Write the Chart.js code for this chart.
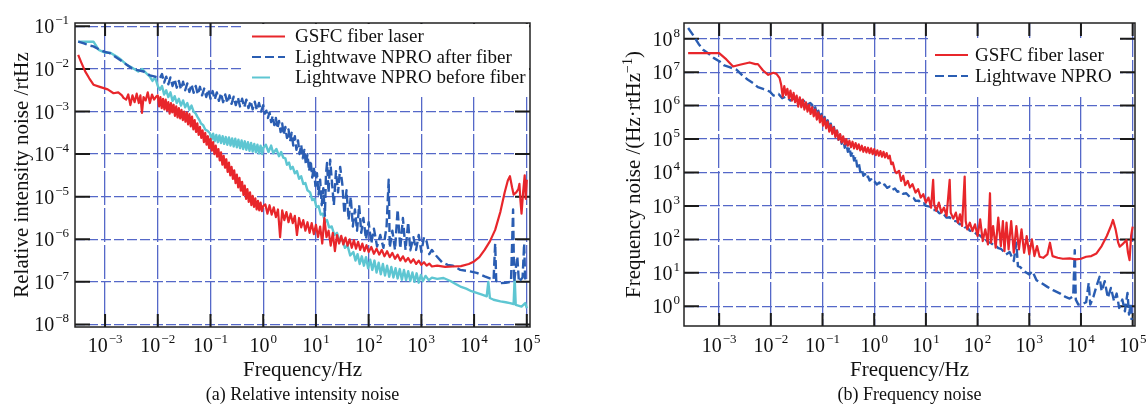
<!DOCTYPE html>
<html><head><meta charset="utf-8">
<script src="https://cdn.jsdelivr.net/npm/chart.js@4"></script>
<style>
html,body{margin:0;padding:0;background:#fff;width:1147px;height:406px;overflow:hidden}
#wrap{position:relative;width:1147px;height:406px;background:#fff}
canvas{position:absolute;top:0}
#cA{left:0;width:570px;height:406px}
#cB{left:570px;width:577px;height:406px}
</style></head><body>
<div id="wrap"><canvas id="cA" width="570" height="406"></canvas><canvas id="cB" width="577" height="406"></canvas></div>
<script>
// ---- data: pairs [log10(frequency / Hz), log10(noise)] ----
const rinNames = ['GSFC fiber laser', 'Lightwave NPRO after fiber', 'Lightwave NPRO before fiber'];
const fnNames = ['GSFC fiber laser', 'Lightwave NPRO'];
const xDecades = [-3, -2, -1, 0, 1, 2, 3, 4, 5];
const rinYDecades = [-8, -7, -6, -5, -4, -3, -2, -1];
const fnYDecades = [0, 1, 2, 3, 4, 5, 6, 7, 8];

const rinGsfc = [[-3.51,-1.67],[-3.45,-1.85],[-3.38,-2.05],[-3.30,-2.22],[-3.22,-2.37],[-3.10,-2.42],[-2.95,-2.48],[-2.84,-2.57],[-2.75,-2.55],[-2.68,-2.62],[-2.65,-2.68],
[-2.60,-2.72],[-2.56,-2.60],[-2.52,-2.85],[-2.48,-2.62],[-2.44,-2.78],[-2.40,-2.58],[-2.36,-2.80],[-2.33,-2.62],[-2.30,-3.03],[-2.27,-2.66],[-2.23,-2.74],[-2.19,-2.55],[-2.15,-2.80],[-2.11,-2.60],[-2.07,-2.72],[-2.03,-2.65],
[-2.000,-2.62],[-1.975,-2.88],[-1.950,-2.66],[-1.925,-2.92],[-1.900,-2.70],[-1.875,-2.95],[-1.850,-2.72],[-1.825,-2.98],[-1.800,-2.78],[-1.775,-3.05],[-1.750,-2.80],[-1.725,-3.02],[-1.700,-2.84],[-1.675,-3.10],[-1.650,-2.88],[-1.625,-3.14],[-1.600,-2.92],[-1.575,-3.16],[-1.550,-2.96],[-1.525,-3.20],[-1.500,-3.00],[-1.475,-3.24],[-1.450,-3.02],[-1.425,-3.30],[-1.400,-3.06],[-1.375,-3.35],[-1.350,-3.12],[-1.325,-3.42],[-1.300,-3.20],[-1.275,-3.48],[-1.250,-3.28],[-1.225,-3.55],[-1.200,-3.36],[-1.175,-3.62],[-1.150,-3.44],[-1.125,-3.72],[-1.100,-3.50],[-1.075,-3.78],[-1.050,-3.58],[-1.025,-3.86],[-1.000,-3.64],[-0.975,-3.92],[-0.950,-3.72],[-0.925,-4.00],[-0.900,-3.80],[-0.875,-4.06],[-0.850,-3.88],[-0.825,-4.15],[-0.800,-3.96],[-0.775,-4.25],[-0.750,-4.04],[-0.725,-4.32],[-0.700,-4.12],[-0.675,-4.42],[-0.650,-4.20],[-0.625,-4.50],[-0.600,-4.30],[-0.575,-4.58],[-0.550,-4.38],[-0.525,-4.68],[-0.500,-4.48],[-0.475,-4.78],[-0.450,-4.56],[-0.425,-4.86],[-0.400,-4.65],[-0.375,-4.96],[-0.350,-4.74],[-0.325,-5.05],[-0.300,-4.82],[-0.275,-5.12],[-0.250,-4.90],[-0.225,-5.20],[-0.200,-4.98],[-0.175,-5.24],[-0.150,-5.04],[-0.125,-5.30],[-0.100,-5.10],[-0.075,-5.32],[-0.050,-5.14],[-0.025,-5.34],[0.000,-5.22],
[0.04,-5.18],[0.08,-5.40],[0.12,-5.20],[0.16,-5.42],[0.20,-5.25],[0.24,-5.48],[0.28,-5.30],[0.32,-5.95],[0.36,-5.32],[0.40,-5.55],[0.44,-5.36],[0.48,-5.60],[0.52,-5.40],[0.56,-5.62],[0.60,-5.45],[0.64,-5.90],[0.68,-5.50],[0.72,-5.72],[0.76,-5.55],[0.80,-5.80],[0.84,-5.60],[0.88,-5.85],[0.92,-5.62],[0.96,-5.88],[1.00,-5.66],[1.04,-5.95],[1.08,-5.70],[1.12,-6.10],[1.16,-5.50],[1.20,-5.95],[1.24,-5.80],[1.28,-6.15],[1.32,-5.85],[1.36,-6.28],[1.40,-5.90],[1.44,-6.10],[1.48,-5.92],[1.52,-6.12],[1.56,-5.96],[1.60,-6.15],[1.64,-6.00],[1.68,-6.20],[1.72,-6.02],[1.76,-6.22],[1.80,-6.06],[1.84,-6.25],[1.88,-6.10],[1.92,-6.28],[1.96,-6.14],[2.00,-6.30],
[2.05,-6.18],[2.10,-6.34],[2.15,-6.22],[2.20,-6.36],[2.25,-6.25],[2.30,-6.40],[2.35,-6.28],[2.40,-6.42],[2.45,-6.32],[2.50,-6.46],[2.55,-6.36],[2.60,-6.50],[2.65,-6.40],[2.70,-6.52],[2.75,-6.44],[2.80,-6.55],[2.85,-6.47],[2.90,-6.58],[2.95,-6.50],[3.00,-6.60],[3.05,-6.54],[3.10,-6.62],[3.15,-6.57],[3.20,-6.64],
[3.30,-6.62],[3.45,-6.65],[3.60,-6.64],[3.75,-6.63],[3.90,-6.58],[4.00,-6.52],[4.10,-6.42],[4.20,-6.25],[4.30,-6.05],[4.40,-5.78],[4.50,-5.35],[4.58,-4.90],[4.64,-4.62],[4.68,-4.52],[4.72,-4.78],[4.75,-4.95],[4.80,-4.90],[4.84,-4.82],[4.86,-4.70],[4.88,-5.10],[4.90,-5.40],[4.93,-4.90],[4.96,-4.50],[4.98,-5.05],[5.00,-4.60]];

const rinNproAfter = [[-3.51,-1.36],[-3.40,-1.40],[-3.30,-1.45],[-3.22,-1.47],[-3.10,-1.55],[-3.00,-1.60],[-2.91,-1.63],[-2.80,-1.72],[-2.70,-1.80],[-2.59,-1.90],[-2.50,-1.98],[-2.40,-2.02],[-2.27,-2.06],[-2.15,-2.15],[-2.05,-2.18],
[-1.96,-2.22],[-1.92,-2.12],[-1.88,-2.32],[-1.84,-2.18],[-1.80,-2.36],[-1.76,-2.20],[-1.72,-2.40],[-1.68,-2.24],[-1.64,-2.44],[-1.60,-2.28],[-1.56,-2.48],[-1.52,-2.30],[-1.48,-2.50],[-1.44,-2.34],[-1.40,-2.54],[-1.36,-2.36],[-1.32,-2.56],[-1.28,-2.40],[-1.24,-2.60],[-1.20,-2.42],[-1.16,-2.62],[-1.12,-2.46],[-1.08,-2.66],[-1.04,-2.48],[-1.00,-2.70],[-0.96,-2.52],[-0.92,-2.72],[-0.88,-2.55],[-0.84,-2.75],[-0.80,-2.57],[-0.76,-2.78],[-0.72,-2.60],[-0.68,-2.80],[-0.64,-2.62],[-0.60,-2.82],[-0.56,-2.65],[-0.52,-2.85],[-0.48,-2.67],[-0.44,-2.88],[-0.40,-2.70],[-0.36,-2.90],[-0.32,-2.72],[-0.28,-2.92],[-0.24,-2.75],[-0.20,-2.95],[-0.16,-2.77],[-0.12,-2.97],[-0.08,-2.80],[-0.04,-3.00],[0.00,-2.85],
[0.03,-3.05],[0.06,-2.98],[0.09,-3.15],[0.12,-3.02],[0.15,-3.25],[0.18,-3.10],[0.21,-3.32],[0.24,-3.15],[0.27,-3.40],[0.30,-3.22],[0.33,-3.48],[0.36,-3.28],[0.39,-3.55],[0.42,-3.36],[0.45,-3.62],[0.48,-3.42],[0.51,-3.70],[0.54,-3.50],[0.57,-3.80],[0.60,-3.58],[0.63,-3.90],[0.66,-3.68],[0.69,-4.00],[0.72,-3.78],[0.75,-4.10],[0.78,-3.90],[0.81,-4.25],[0.84,-4.00],[0.87,-4.40],[0.90,-4.15],[0.93,-4.55],[0.96,-4.30],[0.99,-4.75],[1.02,-4.45],[1.05,-4.95],[1.08,-4.60],[1.11,-5.20],[1.14,-4.80],[1.17,-5.45],
[1.19,-4.50],[1.21,-4.21],[1.24,-4.90],[1.27,-4.13],[1.30,-4.60],[1.34,-5.20],[1.38,-4.40],[1.42,-4.90],[1.46,-4.30],[1.50,-4.70],[1.54,-5.40],[1.58,-4.85],[1.62,-5.55],[1.66,-5.00],[1.70,-5.70],[1.74,-5.30],[1.78,-5.80],[1.82,-5.20],[1.86,-5.85],[1.90,-5.50],[1.95,-6.00],[2.00,-5.60],[2.05,-6.10],[2.10,-5.75],[2.16,-6.17],[2.22,-5.90],[2.28,-6.20],[2.34,-5.70],[2.38,-4.60],[2.40,-6.20],[2.45,-5.80],[2.50,-6.25],[2.55,-5.30],[2.60,-6.22],[2.65,-5.50],[2.70,-6.25],[2.75,-5.60],[2.79,-6.26],[2.85,-5.95],[2.90,-6.25],[2.95,-5.90],[3.00,-6.30],[3.05,-5.95],[3.10,-6.05],[3.15,-6.35],[3.20,-6.25],[3.29,-6.40],[3.40,-6.55],[3.50,-6.60],[3.60,-6.62],[3.74,-6.72],[3.90,-6.75],[4.05,-6.79],[4.20,-6.87],[4.30,-6.92],[4.37,-6.95],[4.40,-6.10],[4.42,-6.98],[4.50,-7.03],[4.60,-7.02],[4.70,-7.00],[4.74,-5.30],[4.76,-7.00],[4.82,-6.40],[4.85,-7.00],[4.92,-6.90],[4.95,-6.10],[4.97,-7.00],[5.00,-6.99]];

const rinNproBefore = [[-3.51,-1.36],[-3.35,-1.36],[-3.22,-1.36],[-3.12,-1.55],[-3.00,-1.62],[-2.90,-1.62],[-2.78,-1.71],[-2.70,-1.78],[-2.59,-1.90],[-2.50,-1.96],[-2.37,-2.06],[-2.30,-2.00],[-2.22,-2.10],[-2.15,-2.18],[-2.10,-2.28],[-2.05,-2.20],[-2.00,-2.40],[-1.96,-2.49],[-1.92,-2.40],[-1.88,-2.60],[-1.84,-2.50],[-1.80,-2.66],[-1.76,-2.55],[-1.72,-2.75],[-1.68,-2.64],[-1.64,-2.80],[-1.60,-2.70],[-1.56,-2.86],[-1.52,-2.74],[-1.48,-2.90],[-1.44,-2.80],[-1.40,-2.96],[-1.36,-2.86],[-1.32,-3.00],[-1.28,-3.05],[-1.25,-3.12],[-1.21,-3.20],[-1.18,-3.28],[-1.14,-3.32],[-1.10,-3.42],[-1.05,-3.46],
[-1.01,-3.51],[-0.98,-3.66],[-0.95,-3.52],[-0.92,-3.70],[-0.89,-3.55],[-0.86,-3.72],[-0.83,-3.56],[-0.80,-3.74],[-0.77,-3.58],[-0.74,-3.76],[-0.71,-3.60],[-0.68,-3.78],[-0.65,-3.61],[-0.62,-3.80],[-0.59,-3.63],[-0.56,-3.82],[-0.53,-3.64],[-0.50,-3.84],[-0.47,-3.66],[-0.44,-3.86],[-0.41,-3.68],[-0.38,-3.88],[-0.35,-3.70],[-0.32,-3.90],[-0.29,-3.72],[-0.26,-3.92],[-0.23,-3.74],[-0.20,-3.94],[-0.17,-3.76],[-0.14,-3.96],[-0.11,-3.78],[-0.08,-3.98],[-0.05,-3.80],[-0.02,-4.00],[0.00,-3.85],
[0.05,-3.78],[0.10,-3.95],[0.15,-3.80],[0.19,-3.98],[0.25,-3.88],[0.30,-4.05],[0.34,-3.95],[0.38,-4.08],[0.42,-4.10],[0.45,-4.25],[0.49,-4.20],[0.52,-4.35],[0.56,-4.30],[0.60,-4.45],[0.64,-4.40],[0.68,-4.58],[0.72,-4.52],[0.76,-4.70],[0.80,-4.68],[0.84,-4.85],[0.89,-4.90],[0.93,-5.08],[0.97,-5.05],[1.01,-5.25],[1.05,-5.22],[1.09,-5.42],[1.13,-5.40],[1.17,-5.58],[1.21,-5.55],[1.25,-5.72],[1.30,-5.70],[1.35,-5.90],[1.40,-5.85],[1.45,-6.05],[1.50,-6.00],[1.55,-6.20],[1.60,-6.15],[1.65,-6.38],[1.71,-6.30],
[1.75,-6.50],[1.79,-6.35],[1.83,-6.58],[1.87,-6.40],[1.91,-6.62],[1.95,-6.42],[1.99,-6.68],[2.03,-6.48],[2.07,-6.72],[2.11,-6.50],[2.15,-6.78],[2.19,-6.55],[2.23,-6.82],[2.27,-6.58],[2.31,-6.85],[2.35,-6.62],[2.39,-6.88],[2.43,-6.65],[2.47,-6.90],[2.51,-6.68],[2.55,-6.92],[2.59,-6.70],[2.63,-6.95],[2.67,-6.72],[2.71,-6.96],[2.75,-6.75],[2.79,-6.98],[2.83,-6.78],[2.87,-7.00],[2.91,-6.80],[2.95,-7.02],[2.99,-6.84],[3.03,-6.98],[3.08,-6.86],[3.14,-6.96],[3.20,-6.90],[3.30,-6.93],[3.42,-6.91],[3.55,-6.98],[3.65,-7.05],[3.74,-7.11],[3.85,-7.16],[3.95,-7.22],[4.05,-7.26],[4.15,-7.30],[4.24,-7.34],[4.27,-7.00],[4.30,-7.38],[4.37,-7.42],[4.50,-7.46],[4.60,-7.48],[4.68,-7.50],[4.75,-7.52],[4.77,-6.90],[4.79,-7.54],[4.90,-7.58],[4.97,-7.50],[5.00,-7.62]];

const fnGsfc = [[-3.60,7.57],[-3.00,7.57],[-2.86,7.38],[-2.73,7.17],[-2.60,7.22],[-2.41,7.29],[-2.30,7.24],[-2.25,7.24],[-2.15,7.05],[-2.05,6.92],[-1.95,6.98],[-1.89,6.95],[-1.83,6.82],
[-1.80,6.62],[-1.77,6.27],[-1.74,6.58],[-1.71,6.32],[-1.68,6.50],[-1.65,6.22],[-1.62,6.45],[-1.59,6.15],[-1.56,6.38],[-1.53,6.10],[-1.50,6.30],[-1.47,5.97],[-1.44,6.25],[-1.41,5.95],[-1.38,6.18],[-1.35,5.88],[-1.32,6.10],[-1.29,5.82],[-1.26,6.02],[-1.23,5.75],[-1.20,5.95],[-1.17,5.68],[-1.14,5.88],[-1.11,5.58],[-1.08,5.80],[-1.05,5.50],[-1.02,5.70],[-0.99,5.40],[-0.96,5.62],[-0.93,5.32],[-0.90,5.52],[-0.87,5.22],[-0.84,5.42],[-0.81,5.15],[-0.78,5.35],[-0.75,5.06],[-0.72,5.25],[-0.69,4.98],[-0.66,5.15],[-0.63,4.90],[-0.60,5.08],[-0.57,4.85],[-0.54,5.00],[-0.51,4.80],[-0.48,4.95],[-0.45,4.76],[-0.42,4.92],[-0.39,4.72],[-0.36,4.88],[-0.33,4.70],[-0.30,4.84],[-0.27,4.66],[-0.24,4.80],[-0.21,4.62],[-0.18,4.76],[-0.15,4.60],[-0.12,4.74],[-0.09,4.58],[-0.06,4.72],[-0.03,4.55],[0.00,4.70],[0.03,4.52],[0.06,4.66],[0.09,4.50],[0.12,4.64],[0.15,4.47],[0.18,4.62],[0.21,4.45],[0.24,4.58],[0.27,4.42],[0.30,4.50],
[0.33,4.25],[0.36,4.30],[0.40,4.05],[0.43,3.98],[0.48,4.05],[0.52,3.75],[0.56,3.90],[0.60,3.62],[0.65,3.75],[0.69,3.55],[0.74,3.65],[0.80,3.40],[0.85,3.50],[0.90,3.25],[0.95,3.35],[1.00,3.10],[1.05,3.25],[1.10,2.95],[1.14,3.78],[1.16,3.05],[1.20,2.85],[1.25,3.10],[1.30,2.80],[1.35,2.95],[1.40,2.70],[1.46,3.78],[1.48,2.80],[1.53,2.62],[1.58,2.80],[1.62,2.50],[1.66,2.75],[1.70,2.40],[1.75,3.88],[1.77,2.55],[1.80,2.30],[1.85,2.50],[1.90,2.25],[1.95,2.45],[2.00,2.10],[2.05,2.60],[2.10,1.95],[2.15,2.30],[2.20,1.85],[2.24,3.38],[2.26,1.90],[2.30,2.40],[2.35,1.75],[2.40,2.65],[2.45,1.80],[2.49,2.55],[2.52,1.65],[2.56,2.50],[2.60,1.70],[2.65,2.55],[2.70,1.60],[2.75,2.40],[2.80,1.70],[2.85,2.30],[2.90,1.60],[2.95,2.10],[3.00,1.55],[3.05,2.00],[3.10,1.50],[3.15,1.80],[3.20,1.48],[3.27,1.45],[3.35,1.55],[3.40,1.90],[3.45,1.50],[3.55,1.45],[3.65,1.42],[3.78,1.43],[3.90,1.40],[4.00,1.42],[4.10,1.48],[4.20,1.50],[4.30,1.58],[4.40,1.80],[4.50,2.10],[4.58,2.40],[4.62,2.58],[4.67,2.30],[4.72,1.90],[4.75,1.78],[4.80,1.85],[4.88,1.98],[4.91,1.60],[4.94,1.38],[4.97,2.10],[5.00,2.38]];

const fnNpro = [[-3.60,8.32],[-3.50,8.10],[-3.40,7.85],[-3.31,7.67],[-3.20,7.55],[-3.10,7.42],[-2.99,7.32],[-2.90,7.20],[-2.80,7.15],[-2.66,7.07],[-2.55,6.90],[-2.45,6.78],[-2.34,6.67],[-2.25,6.55],[-2.15,6.50],[-2.02,6.42],[-1.95,6.30],[-1.85,6.35],[-1.78,6.22],[-1.70,6.27],[-1.62,6.15],[-1.55,6.22],[-1.48,6.08],[-1.38,6.17],[-1.30,6.02],[-1.24,6.08],
[-1.20,6.02],[-1.17,5.82],[-1.14,5.95],[-1.11,5.72],[-1.08,5.85],[-1.05,5.60],[-1.02,5.75],[-0.99,5.52],[-0.96,5.66],[-0.93,5.42],[-0.90,5.56],[-0.87,5.32],[-0.84,5.46],[-0.81,5.22],[-0.78,5.36],[-0.75,5.10],[-0.72,5.25],[-0.69,4.98],[-0.66,5.12],[-0.63,4.86],[-0.60,5.00],[-0.57,4.74],[-0.54,4.88],[-0.51,4.62],[-0.48,4.76],[-0.45,4.50],[-0.42,4.62],[-0.39,4.36],[-0.36,4.48],[-0.33,4.18],[-0.30,4.30],[-0.27,4.02],[-0.24,4.10],[-0.21,3.90],[-0.18,3.96],[-0.15,3.82],[-0.12,3.88],[-0.09,3.76],[-0.06,3.80],[-0.03,3.72],[0.00,3.74],
[0.05,3.64],[0.10,3.70],[0.15,3.60],[0.20,3.64],[0.25,3.54],[0.30,3.58],[0.35,3.48],[0.40,3.52],[0.45,3.42],[0.50,3.45],[0.56,3.36],[0.62,3.38],[0.70,3.25],[0.76,3.24],[0.80,3.15],[0.86,3.16],[0.90,3.08],[0.96,3.08],[1.00,3.00],[1.08,2.98],[1.14,2.88],[1.20,2.88],[1.26,2.78],[1.32,2.80],[1.40,2.65],[1.46,2.66],[1.53,2.56],[1.60,2.54],[1.65,2.45],[1.70,2.46],[1.75,2.36],[1.80,2.36],[1.85,2.26],[1.92,2.24],[1.98,2.16],[2.04,2.12],[2.10,2.04],[2.15,2.00],[2.20,1.92],[2.25,1.90],[2.30,1.84],[2.35,1.82],[2.40,1.74],[2.45,1.72],[2.49,1.66],[2.55,1.55],[2.62,1.62],[2.70,1.35],[2.75,1.90],[2.78,1.20],[2.82,1.18],[2.90,1.05],[3.00,0.95],[3.06,1.05],[3.14,0.78],[3.25,0.68],[3.35,0.58],[3.46,0.48],[3.60,0.38],[3.70,0.28],[3.78,0.23],[3.85,0.30],[3.88,1.68],[3.90,0.20],[3.95,0.05],[4.04,0.08],[4.10,0.12],[4.15,0.70],[4.18,0.05],[4.24,0.28],[4.30,0.60],[4.36,0.88],[4.40,0.45],[4.46,0.75],[4.52,0.25],[4.58,0.55],[4.64,0.15],[4.69,0.38],[4.74,-0.05],[4.80,0.20],[4.85,-0.15],[4.90,0.40],[4.93,-0.25],[4.96,0.05],[4.98,-0.41]];

// ---- styling ----
const FF = "'Liberation Serif','Times New Roman',serif";
const GRID = '#5568c8';
const RED = '#e8262b', BLUE = '#2a5db2', CYAN = '#5ec6d2';

function drawPow(ctx, exp, x, y, align, maxRight) {
  const b = '10', e = exp < 0 ? '\u2212' + (-exp) : String(exp);
  ctx.font = '20px ' + FF; const wb = ctx.measureText(b).width;
  ctx.font = '13px ' + FF; const we = ctx.measureText(e).width;
  const w = wb + 1 + we;
  let x0 = align === 'right' ? x - w : align === 'center' ? x - w / 2 : x;
  if (maxRight !== undefined && x0 + w > maxRight) x0 = maxRight - w;
  ctx.textAlign = 'left'; ctx.textBaseline = 'alphabetic'; ctx.fillStyle = '#111';
  ctx.font = '20px ' + FF; ctx.fillText(b, x0, y);
  ctx.font = '13px ' + FF; ctx.fillText(e, x0 + wb + 1, y - 9);
}

const deco = {
  id: 'deco',
  beforeDatasetsDraw(chart) {
    const c = chart.options.plugins.deco, ctx = chart.ctx, a = chart.chartArea;
    const xs = chart.scales.x, ys = chart.scales.y;
    ctx.save();
    ctx.strokeStyle = '#1a1a1a'; ctx.lineWidth = 2;
    ctx.beginPath();
    c.xDec.forEach(d => { const p = xs.getPixelForValue(10 ** d);
      ctx.moveTo(p, a.top); ctx.lineTo(p, a.top + 13); ctx.moveTo(p, a.bottom); ctx.lineTo(p, a.bottom - 13); });
    c.yDec.forEach(d => { const p = ys.getPixelForValue(10 ** d);
      ctx.moveTo(a.left, p); ctx.lineTo(a.left + 15, p); ctx.moveTo(a.right, p); ctx.lineTo(a.right - 15, p); });
    ctx.stroke();
    ctx.fillStyle = '#fff';
    const lb = c.legendBox; ctx.fillRect(lb[0], lb[1], lb[2], lb[3]);
    ctx.restore();
  },
  afterDatasetsDraw(chart) {
    const c = chart.options.plugins.deco, ctx = chart.ctx, a = chart.chartArea;
    ctx.save();
    ctx.strokeStyle = '#222'; ctx.lineWidth = 1.5;
    ctx.strokeRect(a.left, a.top, a.right - a.left, a.bottom - a.top);
    c.legend.forEach((it, i) => {
      const ds = chart.data.datasets[i];
      ctx.strokeStyle = ds.borderColor; ctx.lineWidth = 2;
      ctx.setLineDash(it.dash || []);
      ctx.beginPath(); ctx.moveTo(it.x0, it.y); ctx.lineTo(it.x1, it.y); ctx.stroke();
      ctx.setLineDash([]);
      ctx.fillStyle = '#111'; ctx.font = '19px ' + FF; ctx.textAlign = 'left'; ctx.textBaseline = 'middle';
      ctx.fillText(ds.label, c.legendTextX, it.y + 1);
    });
    ctx.restore();
  },
  afterDraw(chart) {
    const c = chart.options.plugins.deco, ctx = chart.ctx, a = chart.chartArea;
    const xs = chart.scales.x, ys = chart.scales.y;
    ctx.save();
    c.yDec.forEach(d => drawPow(ctx, d, c.yLabelRight, ys.getPixelForValue(10 ** d) + 7, 'right'));
    c.xDec.forEach(d => drawPow(ctx, d, xs.getPixelForValue(10 ** d), 352, 'center', chart.width + 2));
    const cx = (a.left + a.right) / 2;
    ctx.fillStyle = '#111'; ctx.textAlign = 'center'; ctx.textBaseline = 'alphabetic';
    ctx.font = '21px ' + FF; ctx.fillText(c.xTitle, cx, 376);
    ctx.font = '18px ' + FF; ctx.fillText(c.caption, cx, 400);
    ctx.translate(c.yTitleX, (a.top + a.bottom) / 2);
    ctx.rotate(-Math.PI / 2);
    ctx.textAlign = 'left'; ctx.textBaseline = 'middle';
    const widths = c.yTitle.map(p => { ctx.font = (p.sup ? '14px ' : '21px ') + FF; return ctx.measureText(p.t).width; });
    let x = -widths.reduce((s, w) => s + w, 0) / 2;
    c.yTitle.forEach((p, i) => { ctx.font = (p.sup ? '14px ' : '21px ') + FF; ctx.fillText(p.t, x, p.sup ? -6 : 0); x += widths[i]; });
    ctx.restore();
  }
};

function makeChart(id, cfg) {
  return new Chart(document.getElementById(id), {
    type: 'scatter',
    data: { datasets: cfg.series.map(s => ({
      label: s.name,
      data: s.data.map(([lf, lv]) => ({ x: 10 ** lf, y: 10 ** lv })),
      showLine: true, borderColor: s.color, backgroundColor: s.color,
      borderWidth: s.width, borderDash: s.dash || [], pointRadius: 0, tension: 0, fill: false,
      borderJoinStyle: 'round'
    })) },
    options: {
      responsive: false, animation: false, devicePixelRatio: 1,
      layout: { padding: cfg.pad },
      plugins: { legend: { display: false }, tooltip: { enabled: false }, deco: cfg },
      scales: {
        x: { type: 'logarithmic', min: cfg.xMin, max: cfg.xMax,
          afterBuildTicks: s => { s.ticks = cfg.xDec.map(d => ({ value: 10 ** d })); },
          afterFit: s => { s.height = 0; },
          ticks: { display: false },
          grid: { color: GRID, lineWidth: 1.3, drawTicks: false },
          border: { display: false, dash: [34, 3] } },
        y: { type: 'logarithmic', min: cfg.yMin, max: cfg.yMax,
          afterBuildTicks: s => { s.ticks = cfg.yDec.map(d => ({ value: 10 ** d })); },
          afterFit: s => { s.width = 0; },
          ticks: { display: false },
          grid: { color: GRID, lineWidth: 1.3, drawTicks: false },
          border: { display: false, dash: [10, 3] } }
      }
    },
    plugins: [deco]
  });
}

makeChart('cA', {
  pad: { left: 75, right: 40, top: 23, bottom: 79 },
  xMin: 2.69e-4, xMax: 1.15e5, yMin: 8.7e-9, yMax: 0.12,
  xDec: xDecades, yDec: rinYDecades,
  series: [
    { name: rinNames[0], data: rinGsfc, color: RED, width: 2.2 },
    { name: rinNames[1], data: rinNproAfter, color: BLUE, width: 2.4, dash: [9, 4] },
    { name: rinNames[2], data: rinNproBefore, color: CYAN, width: 2.4 }
  ],
  legendBox: [242, 24, 287, 73],
  legend: [ { x0: 252, x1: 285, y: 36.5 }, { x0: 252, x1: 285, y: 57, dash: [9, 4] }, { x0: 252, x1: 270, y: 77.5 } ],
  legendTextX: 295,
  yLabelRight: 69, yTitleX: 22,
  yTitle: [{ t: 'Relative intensity noise /rtHz' }],
  xTitle: 'Frequency/Hz', caption: '(a) Relative intensity noise'
});

makeChart('cB', {
  pad: { left: 114, right: 12, top: 23, bottom: 80 },
  xMin: 2.09e-4, xMax: 1.11e5, yMin: 0.257, yMax: 2.95e8,
  xDec: xDecades, yDec: fnYDecades,
  series: [
    { name: fnNames[0], data: fnGsfc, color: RED, width: 2.2 },
    { name: fnNames[1], data: fnNpro, color: BLUE, width: 2.4, dash: [9, 4] }
  ],
  legendBox: [360, 38, 190, 57],
  legend: [ { x0: 365, x1: 398, y: 55 }, { x0: 365, x1: 398, y: 76, dash: [9, 4] } ],
  legendTextX: 405,
  yLabelRight: 110, yTitleX: 64,
  yTitle: [{ t: 'Frequency noise /(Hz\u00b7rtHz' }, { t: '\u22121', sup: true }, { t: ')' }],
  xTitle: 'Frequency/Hz', caption: '(b) Frequency noise'
});
</script>
</body></html>
